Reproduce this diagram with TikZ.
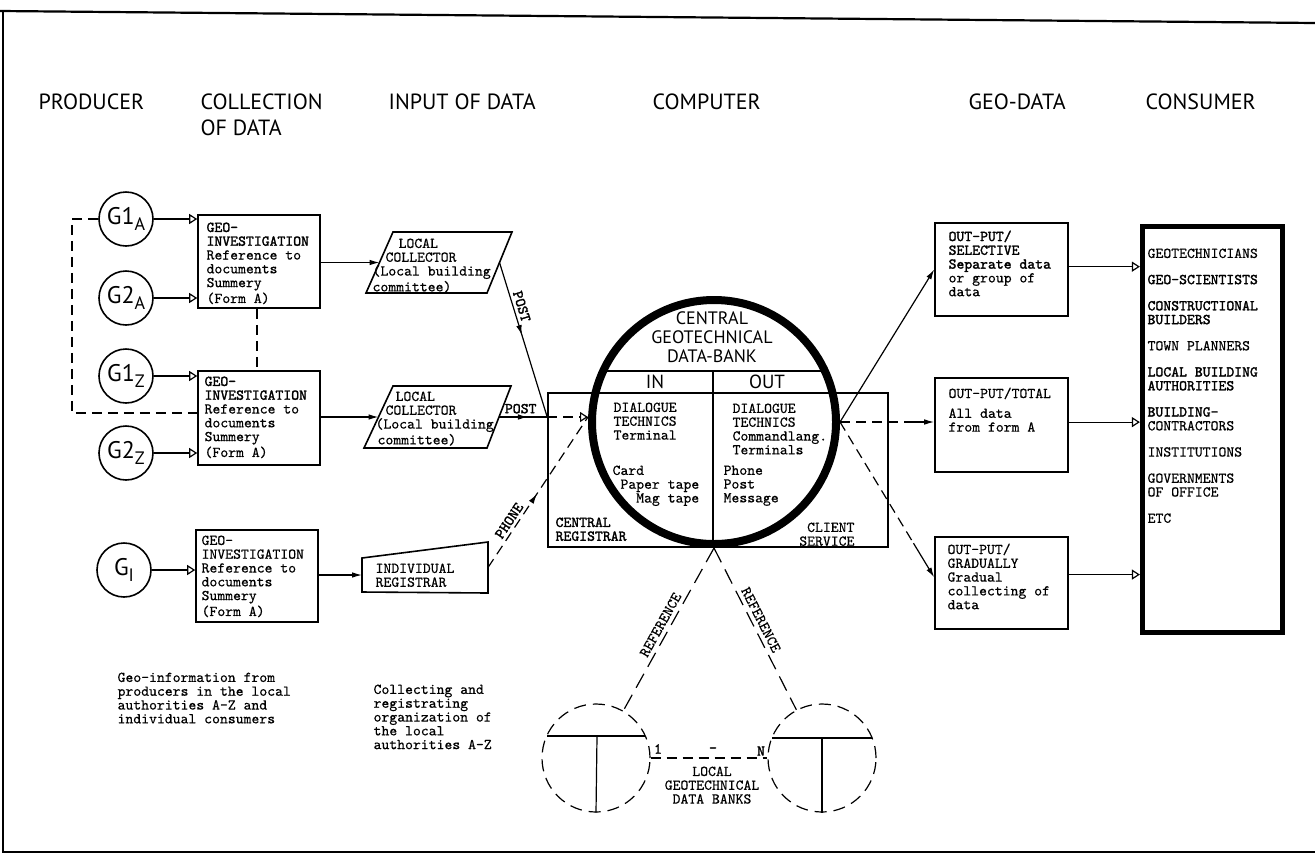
\documentclass[tikz,border=0pt]{standalone}
\usepackage{fontspec}
\newfontfamily\headfont{PT Sans}
\newfontfamily\tw{lmmono10-regular.otf}[FakeBold=0.5]
\newfontfamily\twb{lmmono10-regular.otf}[FakeBold=1.8]
\usetikzlibrary{arrows.meta, calc, fit, decorations.markings}
\newcommand\twtext{\tw\fontsize{7.5}{6.9}\selectfont}
\newcommand\twbold{\twb\fontsize{7.5}{6.9}\selectfont}
\newcommand\gsub[2]{#1\raisebox{-0.55ex}{\fontsize{9}{9}\selectfont#2}}

\begin{document}
\begin{tikzpicture}[x=0.5pt, y=-0.5pt, line width=0.6pt,
  boxed/.style={draw, line width=0.8pt, inner sep=0pt},
  gcirc/.style={circle, draw, line width=0.8pt, minimum size=27pt, inner sep=0pt,
    font=\headfont\fontsize{12}{12}\selectfont},
  dcirc/.style={circle, draw, dash pattern=on 6pt off 3.5pt, minimum size=54pt, inner sep=0pt},
  head/.style={font=\headfont\fontsize{11}{12}\selectfont, inner sep=0pt, anchor=north west, align=left},
  txt/.style={font=\twtext, align=left, inner sep=0pt, anchor=north west},
  lbl/.style={font=\twbold, inner sep=1.5pt},
  dashln/.style={dash pattern=on 5pt off 3pt},
  refln/.style={dash pattern=on 8pt off 4pt},
  oarr/.style={-{Triangle[open, length=4pt, width=5pt]}},
  farr/.style={-{Latex[length=5pt, width=2.8pt]}},
  midarrow/.style={postaction={decorate, decoration={markings,
    mark=at position #1 with {\arrow{Latex[length=5pt, width=2.8pt]}}}}}
]
\fill[white] (0,0) rectangle (1315,857);
\useasboundingbox (0,0) rectangle (1315,857);

% page frame
\draw[line width=1.1pt] (0,11) -- (1315,23);
\draw[line width=0.9pt] (3,11) -- (3,852) -- (1315,852);

% column headings
\node[head] (hprod) at (38,93) {PRODUCER};
\node[head] (hcoll) at (200,93) {COLLECTION\\[1pt]OF DATA};
\node[head] (hinp) at (388,93) {INPUT OF DATA};
\node[head] (hcomp) at (652,93) {COMPUTER};
\node[head] (hgeo) at (968,93) {GEO-DATA};
\node[head] (hcons) at (1145,93) {CONSUMER};

% producers
\node[gcirc] (g1a) at (126,219) {\gsub{G1}{A}};
\node[gcirc] (g2a) at (126,298) {\gsub{G2}{A}};
\node[gcirc] (g1z) at (126,376) {\gsub{G1}{Z}};
\node[gcirc] (g2z) at (126,453) {\gsub{G2}{Z}};
\node[gcirc] (gi) at (124,570) {\gsub{G}{I}};

% collection of data
\node[boxed, fit={(198,215) (320,308)}] (ba) {};
\node[boxed, fit={(198,371) (320,465)}] (bz) {};
\node[boxed, fit={(196,530) (318,622)}] (bi) {};
\node[txt] (ta) at (206,222) {{\twb GEO-}\\{\twb INVESTIGATION}\\Reference to\\documents\\Summery\\(Form A)};
\node[txt] (tz) at (204,376) {{\twb GEO-}\\{\twb INVESTIGATION}\\Reference to\\documents\\Summery\\(Form A)};
\node[txt] (ti) at (201,535) {GEO-\\INVESTIGATION\\Reference to\\documents\\Summery\\(Form A)};

\draw[oarr] (g1a.east) -- (g1a.east -| ba.west);
\draw[oarr] (g2a.east) -- (g2a.east -| ba.west);
\draw[oarr] (g1z.east) -- (g1z.east -| bz.west);
\draw[oarr] (g2z.east) -- (g2z.east -| bz.west);
\draw[oarr] (gi.east) -- (gi.east -| bi.west);

\coordinate (lp) at (72,413);
\draw[dashln] (g1a.west) -| (lp) -- (lp -| bz.west);
\coordinate (vx) at (257,0);
\draw[dashln] (ba.south -| vx) -- (bz.north -| vx);

% input of data
\coordinate (c1tl) at (393,232); \coordinate (c1tr) at (512,232);
\coordinate (c1br) at (487,293); \coordinate (c1bl) at (366,293);
\draw[line width=0.8pt] (c1tl) -- (c1tr) -- (c1br) -- (c1bl) -- cycle;
\coordinate (c1w) at ($(c1tl)!0.5!(c1bl)$);
\coordinate (c1e) at ($(c1tr)!0.5!(c1br)$);
\node[txt] (tc1) at (372,238) {\hspace*{13pt}LOCAL\\\hspace*{6.5pt}COLLECTOR\\(Local building\\committee)};

\coordinate (c2tl) at (393,386); \coordinate (c2tr) at (511,386);
\coordinate (c2br) at (487,448); \coordinate (c2bl) at (364,448);
\draw[line width=0.8pt] (c2tl) -- (c2tr) -- (c2br) -- (c2bl) -- cycle;
\coordinate (c2w) at ($(c2tl)!0.5!(c2bl)$);
\coordinate (c2e) at ($(c2tr)!0.5!(c2br)$);
\node[txt] (tc2) at (375,391) {\hspace*{10pt}LOCAL\\\hspace*{5pt}COLLECTOR\\(Local building\\\hspace*{1pt}committee)};

\coordinate (rtl) at (362,558); \coordinate (rtr) at (488,542);
\coordinate (rbr) at (488,593); \coordinate (rbl) at (362,592);
\draw[line width=0.8pt] (rtl) -- (rtr) -- (rbr) -- (rbl) -- cycle;
\coordinate (rw) at ($(rtl)!0.5!(rbl)$);
\coordinate (re) at ($(rtr)!0.5!(rbr)$);
\node[txt] (treg) at (375,563) {INDIVIDUAL\\REGISTRAR};

\draw[farr] (ba.east |- c1w) -- (c1w);
\draw[farr] (bz.east |- c2w) -- (c2w);
\draw[farr] (bi.east |- rw) -- (rw);

% computer
\node[boxed, fit={(548,393) (888,547)}] (cb) {};
\node[circle, draw, line width=4pt, minimum size=122pt, inner sep=0pt] (cg) at (714,422) {};
\begin{scope}
  \clip (cg.center) circle [radius=60pt];
  \draw (580,371) -- (850,371);
  \draw (713,371) -- (713,560);
\end{scope}
\node[font=\headfont\fontsize{9}{9.6}\selectfont, align=center, inner sep=0pt] (ctitle) at (712,337) {CENTRAL\\GEOTECHNICAL\\DATA-BANK};
\node[font=\headfont\fontsize{9.5}{10}\selectfont, inner sep=0pt] (tin) at (655,382) {IN};
\node[font=\headfont\fontsize{9.5}{10}\selectfont, inner sep=0pt] (tout) at (767,382) {OUT};
\node[txt] (din) at (613,402) {DIALOGUE\\TECHNICS\\Terminal};
\node[txt] (min) at (612,465) {Card\\\hspace*{3.94pt}Paper tape\\\hspace*{11.8pt}Mag tape};
\node[txt] (dout) at (732,403) {DIALOGUE\\TECHNICS\\Commandlang.\\Terminals};
\node[txt] (mout) at (723,465) {Phone\\Post\\Message};
\node[txt, font=\twbold] (creg) at (555,517) {CENTRAL\\REGISTRAR};
\node[txt, anchor=north east, align=right] (csrv) at (855,522) {CLIENT\\SERVICE};

\coordinate (jn) at (cb.west |- c2e);
\coordinate (ct) at (cg.west |- jn);
\draw[midarrow=0.47] (c1e) -- node[lbl, sloped, above, pos=0.3] {POST} (jn);
\draw[midarrow=0.6] (c2e) -- node[lbl, above, pos=0.45] {POST} (jn);
\draw[dashln, oarr] (jn) -- (ct);
\draw[dashln, midarrow=0.49] (re) -- node[lbl, sloped, above, pos=0.28] {PHONE} (ct);

% geo-data
\node[boxed, fit={(935,223) (1068,316)}] (sel) {};
\node[boxed, fit={(935,378) (1068,472)}] (tot) {};
\node[boxed, fit={(935,537) (1068,629)}] (grd) {};
\node[txt] (tsel) at (948,230) {{\twb OUT-PUT/}\\{\twb SELECTIVE}\\{\twb Separate data}\\or group of\\data};
\node[txt] (ttot) at (948,387) {OUT-PUT/TOTAL\\[3pt]All data\\from form A};
\node[txt] (tgrd) at (947,543) {OUT-PUT/\\GRADUALLY\\Gradual\\collecting of\\data};

\coordinate (cr) at (cg.east);
\coordinate (totin) at (cr -| tot.west);
\coordinate (grdin) at ($(grd.north west)!0.44!(grd.south west)$);
\coordinate (tm) at ($(cr)!0.77!(totin)$);
\coordinate (gm) at ($(cr)!0.78!(grdin)$);
\draw[farr] (cr) -- (sel.west);
\draw[dashln] (cr) -- (tm);
\draw[farr] (tm) -- (totin);
\draw[dashln] (cr) -- (gm);
\draw[farr] (gm) -- (grdin);

% consumer
\node[draw, line width=2.6pt, inner sep=0pt, fit={(1142.5,226.5) (1282.5,632.5)}] (con) {};
\node[txt] (clist) at (1147,248) {GEOTECHNICIANS\\[6.2pt]{\twb GEO-SCIENTISTS}\\[6.2pt]{\twb CONSTRUCTIONAL}\\{\twb BUILDERS}\\[6.2pt]TOWN PLANNERS\\[6.2pt]{\twb LOCAL BUILDING}\\{\twb AUTHORITIES}\\[6.2pt]{\twb BUILDING-}\\CONTRACTORS\\[6.2pt]INSTITUTIONS\\[6.2pt]GOVERNMENTS\\OF OFFICE\\[6.2pt]ETC};

\coordinate (selout) at ($(sel.north east)!0.47!(sel.south east)$);
\coordinate (totout) at ($(tot.north east)!0.47!(tot.south east)$);
\coordinate (grdout) at ($(grd.north east)!0.41!(grd.south east)$);
\draw[oarr] (selout) -- (selout -| con.west);
\draw[oarr] (totout) -- (totout -| con.west);
\draw[oarr] (grdout) -- (grdout -| con.west);

% local data banks
\node[dcirc] (lc1) at (596,758) {};
\node[dcirc] (lc2) at (822,758) {};
\draw ($(lc1.center)+(-49,-22)$) -- ($(lc1.center)+(49,-22)$);
\draw ($(lc1.center)+(1,-22)$) -- (lc1.south);
\draw ($(lc2.center)+(-50,-20)$) -- ($(lc2.center)+(50,-20)$);
\draw ($(lc2.center)+(0,-20)$) -- (lc2.south);
\draw[dashln] (lc1.east) -- (lc2.west);
\node[lbl, inner sep=0pt] (n1) at (658,749) {1};
\node[lbl, inner sep=0pt] (nd) at (713,750) {-};
\node[lbl, inner sep=0pt] (nn) at (761,751) {N};
\node[txt, anchor=north, align=center] (tloc) at (712,766) {LOCAL\\GEOTECHNICAL\\DATA BANKS};
\draw[refln] (cg.south) -- node[font=\twtext, inner sep=2pt, sloped, above, pos=0.5] {REFERENCE} (lc1.60);
\draw[refln] (cg.south) -- node[font=\twtext, inner sep=2pt, sloped, above, pos=0.47] {REFERENCE} (lc2.118);

% notes
\node[txt] (nprod) at (117,672) {Geo-information from\\producers in the local\\authorities A-Z and\\individual consumers};
\node[txt] (ncoll) at (373,684) {Collecting and\\registrating\\organization of\\the local\\authorities A-Z};
\end{tikzpicture}
\end{document}
